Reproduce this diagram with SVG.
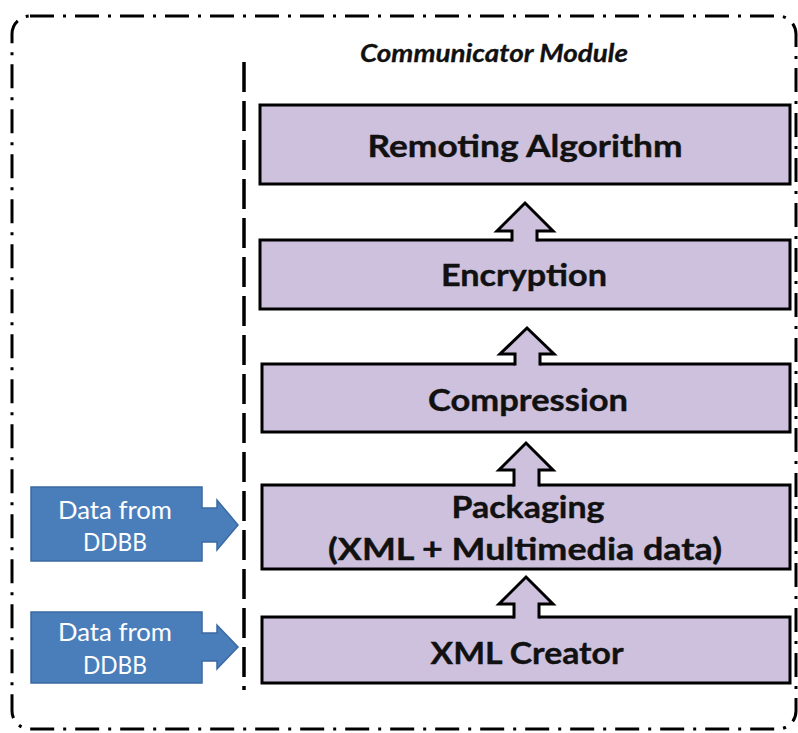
<svg xmlns="http://www.w3.org/2000/svg" width="798" height="733" viewBox="0 0 798 733">
  <style>
    .frame { fill: none; stroke: #000; stroke-width: 3; stroke-dasharray: 24 9 3 9; }
    .divider { fill: none; stroke: #000; stroke-width: 3.5; stroke-dasharray: 30 9; }
    .stage { fill: #cdc1dd; stroke: #000; stroke-width: 3; }
    .up-fill { fill: #cdc1dd; stroke: none; }
    .up-edge { fill: none; stroke: #000; stroke-width: 3; stroke-linejoin: miter; }
    .label { font-family: Lato, "Open Sans", "Liberation Sans", sans-serif; font-weight: 700; font-size: 31px; fill: #111; text-anchor: middle; stroke: #111; stroke-width: 0.4; }
    .title { font-family: Lato, "Open Sans", "Liberation Sans", sans-serif; font-weight: 700; font-style: italic; font-size: 24px; fill: #111; stroke: #111; stroke-width: 0.3; }
    .src { fill: #4a7ebb; stroke: #3b6aa2; stroke-width: 1.5; }
    .src-text { font-family: Lato, "Open Sans", "Liberation Sans", sans-serif; font-size: 25px; fill: #fff; text-anchor: middle; }
  </style>

  <rect width="798" height="733" fill="#fff"/>

  <!-- outer module frame -->
  <rect class="frame" x="12" y="16" width="784" height="713" rx="18" ry="18"/>

  <!-- divider between external sources and the module -->
  <line class="divider" x1="244" y1="62" x2="244" y2="690"/>

  <text class="title" x="360" y="62" textLength="268" lengthAdjust="spacingAndGlyphs">Communicator Module</text>

  <!-- processing stages -->
  <g id="remoting">
    <rect class="stage" x="260" y="105" width="530" height="79"/>
    <text class="label" x="525" y="157" textLength="315" lengthAdjust="spacingAndGlyphs">Remoting Algorithm</text>
  </g>
  <g id="encryption">
    <rect class="stage" x="260" y="240" width="530" height="69"/>
    <text class="label" x="524" y="286" textLength="166" lengthAdjust="spacingAndGlyphs">Encryption</text>
  </g>
  <g id="compression">
    <rect class="stage" x="262" y="364" width="528" height="68"/>
    <text class="label" x="528" y="411" textLength="200" lengthAdjust="spacingAndGlyphs">Compression</text>
  </g>
  <g id="packaging">
    <rect class="stage" x="262" y="485" width="528" height="84"/>
    <text class="label" x="528" y="518" textLength="153" lengthAdjust="spacingAndGlyphs">Packaging</text>
    <text class="label" x="525" y="560" textLength="394" lengthAdjust="spacingAndGlyphs">(XML + Multimedia data)</text>
  </g>
  <g id="xml-creator">
    <rect class="stage" x="262" y="617" width="528" height="66"/>
    <text class="label" x="527" y="664" textLength="193" lengthAdjust="spacingAndGlyphs">XML Creator</text>
  </g>

  <!-- external data sources -->
  <g id="source-ddbb-1">
    <path class="src" d="M31,487 H202 V508 H217 V500 L238,525 L217,550 V542 H202 V561 H31 Z"/>
    <text class="src-text" x="115" y="519" textLength="114" lengthAdjust="spacingAndGlyphs">Data from</text>
    <text class="src-text" x="115" y="551" textLength="64" lengthAdjust="spacingAndGlyphs">DDBB</text>
  </g>
  <g id="source-ddbb-2">
    <path class="src" d="M31,612 H202 V633 H217 V625 L238,647 L217,669 V661 H202 V683 H31 Z"/>
    <text class="src-text" x="115" y="641" textLength="114" lengthAdjust="spacingAndGlyphs">Data from</text>
    <text class="src-text" x="115" y="674" textLength="64" lengthAdjust="spacingAndGlyphs">DDBB</text>
  </g>

  <!-- upward block arrows joining each stage to the next -->
  <g id="connectors">
    <polygon class="up-fill" points="512,243 512,231 497,231 525,203 553,231 537,231 537,243"/>
    <polyline class="up-edge" points="512,241.5 512,231 497,231 525,203 553,231 537,231 537,241.5"/>

    <polygon class="up-fill" points="515,367 515,354 500,354 527,328 554,354 540,354 540,367"/>
    <polyline class="up-edge" points="515,365.5 515,354 500,354 527,328 554,354 540,354 540,365.5"/>

    <polygon class="up-fill" points="514,488 514,470 499,470 526,443 553,470 539,470 539,488"/>
    <polyline class="up-edge" points="514,486.5 514,470 499,470 526,443 553,470 539,470 539,486.5"/>

    <polygon class="up-fill" points="514,620 514,604 499,604 526,577 553,604 539,604 539,620"/>
    <polyline class="up-edge" points="514,618.5 514,604 499,604 526,577 553,604 539,604 539,618.5"/>
  </g>
</svg>
